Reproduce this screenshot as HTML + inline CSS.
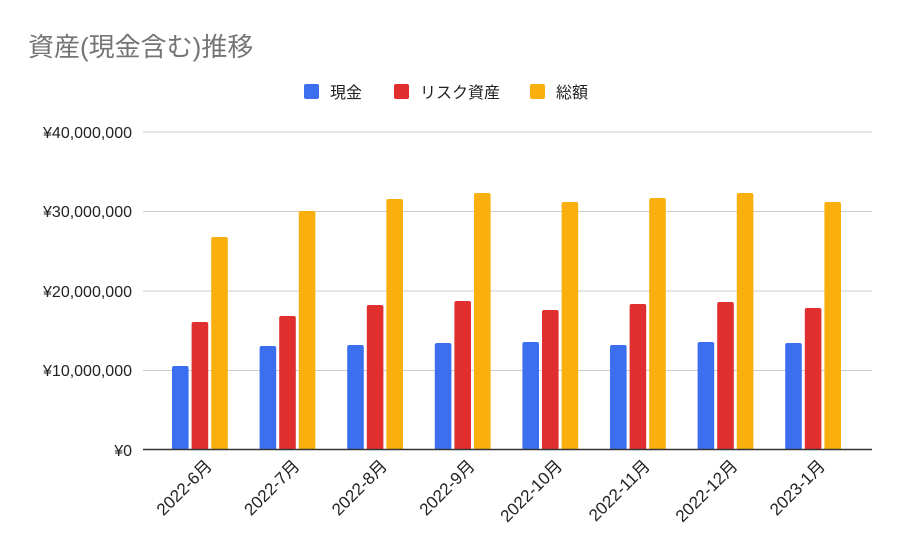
<!DOCTYPE html>
<html><head><meta charset="utf-8"><style>
html,body{margin:0;background:#fff;overflow:hidden;width:900px;height:556px;}
svg{display:block;}
svg text{font-family:"Liberation Sans","Noto Sans CJK JP",sans-serif;}
</style></head><body>
<svg width="900" height="556" viewBox="0 0 900 556" xmlns="http://www.w3.org/2000/svg">
<rect width="900" height="556" fill="#fff"/>
<text x="28" y="56" font-size="26" fill="#757575">資産(現金含む)推移</text>
<rect x="304" y="84" width="15" height="15" rx="2" fill="#3c6ff0"/>
<text x="330" y="98" font-size="16" fill="#222">現金</text>
<rect x="394" y="84" width="15" height="15" rx="2" fill="#e12f2f"/>
<text x="420" y="98" font-size="16" fill="#222">リスク資産</text>
<rect x="530" y="84" width="15" height="15" rx="2" fill="#f9b00f"/>
<text x="556" y="98" font-size="16" fill="#222">総額</text>
<g stroke="#ccc" stroke-width="1">
<line x1="143" y1="132" x2="872" y2="132"/>
<line x1="143" y1="211.5" x2="872" y2="211.5"/>
<line x1="143" y1="291" x2="872" y2="291"/>
<line x1="143" y1="370.5" x2="872" y2="370.5"/>
</g>
<g font-size="16" fill="#222" text-anchor="end">
<text x="132" y="138">¥40,000,000</text>
<text x="132" y="217">¥30,000,000</text>
<text x="132" y="297">¥20,000,000</text>
<text x="132" y="376">¥10,000,000</text>
<text x="132" y="456">¥0</text>
</g>
<g id="bars"></g>
<line x1="143" y1="449.5" x2="872" y2="449.5" stroke="#333" stroke-width="1.5"/>
<g id="labels" font-size="17" fill="#222" text-anchor="end"></g>
</svg>
<script>
var tops=[[366,322,237],[346,316,211],[345,305,199],[343,301,193],[342,310,202],[345,304,198],[342,302,193],[343,308,202]];
var names=["2022-6月","2022-7月","2022-8月","2022-9月","2022-10月","2022-11月","2022-12月","2023-1月"];
var cols=["#3c6ff0","#e12f2f","#f9b00f"];
var ns="http://www.w3.org/2000/svg",b=document.getElementById("bars"),l=document.getElementById("labels");
for(var i=0;i<8;i++){var x0=172+87.6*i;
for(var j=0;j<3;j++){var r=document.createElementNS(ns,"rect");var x=x0+j*19.6;
r.setAttribute("x",x);r.setAttribute("y",tops[i][j]);r.setAttribute("width",16.6);r.setAttribute("height",450-tops[i][j]);r.setAttribute("rx",2);r.setAttribute("fill",cols[j]);b.appendChild(r);}
var t=document.createElementNS(ns,"text");var cx=x0+41;t.setAttribute("transform","translate("+cx+",467) rotate(-45)");t.textContent=names[i];l.appendChild(t);}
</script>
</body></html>
